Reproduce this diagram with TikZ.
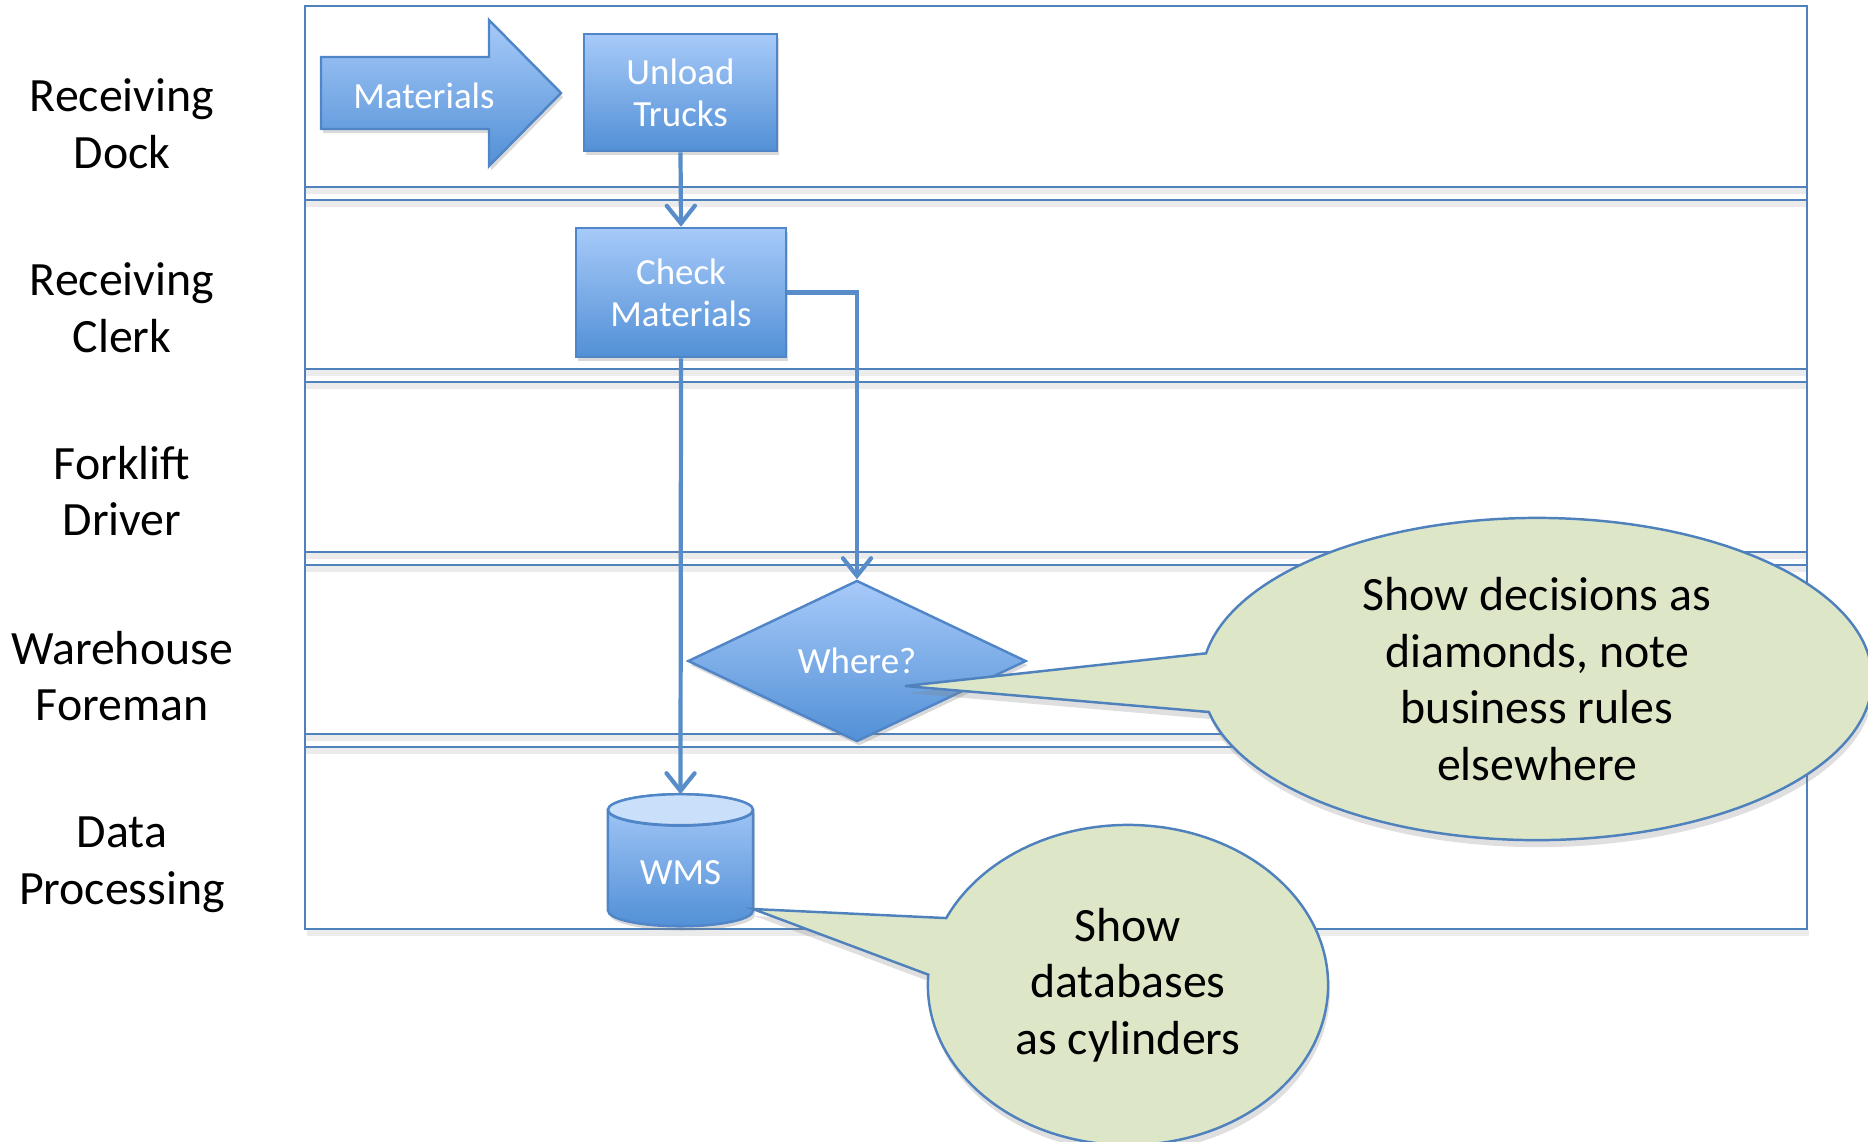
\documentclass[tikz,border=0pt]{standalone}
\usepackage{fontspec}
\setmainfont{Carlito}
\usetikzlibrary{shapes.geometric,shapes.callouts,shadows,arrows.meta}

% Colours of the swimlane chart
\definecolor{laneblue}{RGB}{79,129,189}
\definecolor{linkblue}{RGB}{88,141,201}
\definecolor{boxtop}{RGB}{167,202,249}
\definecolor{boxbottom}{RGB}{82,144,214}
\definecolor{boxedge}{RGB}{80,134,199}
\definecolor{capfill}{RGB}{202,223,250}
\definecolor{notefill}{RGB}{221,231,200}

\tikzset{
  lane/.style={draw=laneblue, line width=0.7pt},
  laneshade/.style={draw=black!8, line width=1.5pt},
  lanetext/.style={align=center, font=\fontsize{13.6}{16.1}\selectfont},
  blueshade/.style={draw=boxedge, line width=0.7pt, top color=boxtop, bottom color=boxbottom},
  boxshadow/.style={drop shadow={shadow xshift=0.6pt, shadow yshift=-1.2pt, opacity=0.3}},
  boxtext/.style={text=white, align=center, font=\fontsize{10.5}{12}\selectfont},
  process/.style={rectangle, blueshade, boxshadow, boxtext, inner sep=0pt},
  decision/.style={diamond, blueshade, boxshadow, boxtext, inner sep=0pt,
    minimum width=3.38cm, minimum height=1.61cm},
  dbase/.style={cylinder, shape border rotate=90, aspect=0.3, blueshade, boxshadow, boxtext,
    outer sep=0pt, minimum width=1.45cm, minimum height=1.32cm},
  link/.style={draw=linkblue, line width=1.2pt, -{Straight Barb[length=5pt, width=8pt, line cap=round]}},
  note/.style={ellipse callout, draw=laneblue, line width=0.7pt, fill=notefill, inner sep=0pt,
    callout pointer arc=21, lanetext,
    drop shadow={shadow xshift=0.5pt, shadow yshift=-2pt, opacity=0.25}}
}

\begin{document}
\begin{tikzpicture}[x=0.01cm, y=-0.01cm]
  % Fix the page to the size of the reference
  \useasboundingbox (0,0) rectangle (1868,1141);

  % Draw the shadows under the lane borders
  \draw[laneshade] (305,191) -- (1807,191);
  \draw[laneshade] (305,204) -- (1807,204);
  \draw[laneshade] (305,373) -- (1807,373);
  \draw[laneshade] (305,386) -- (1807,386);
  \draw[laneshade] (305,556) -- (1807,556);
  \draw[laneshade] (305,569) -- (1807,569);
  \draw[laneshade] (305,738) -- (1807,738);
  \draw[laneshade] (305,751) -- (1807,751);
  \draw[laneshade] (307,933) -- (1809,933);

  % Draw the frame and the lane borders
  \draw[lane] (305,6) rectangle (1807,929);
  \draw[lane] (305,187) -- (1807,187);
  \draw[lane] (305,200) -- (1807,200);
  \draw[lane] (305,369) -- (1807,369);
  \draw[lane] (305,382) -- (1807,382);
  \draw[lane] (305,552) -- (1807,552);
  \draw[lane] (305,565) -- (1807,565);
  \draw[lane] (305,734) -- (1807,734);
  \draw[lane] (305,747) -- (1807,747);

  % Add the lane names
  \node[lanetext] (dock) at (122,124) {Receiving\\Dock};
  \node[lanetext] (clerk) at (122,308) {Receiving\\Clerk};
  \node[lanetext] (driver) at (122,491) {Forklift\\Driver};
  \node[lanetext] (foreman) at (122,676) {Warehouse\\Foreman};
  \node[lanetext] (dp) at (122,865) {Data\\Processing};

  % Draw the incoming materials arrow
  \path[blueshade, boxshadow] (321,57) -- (489,57) -- (489,20) -- (561,93)
    -- (489,166) -- (489,129) -- (321,129) -- cycle;
  \node[boxtext] (mat) at (424,96) {Materials};

  % Draw the steps
  \node[process, minimum width=1.93cm, minimum height=1.17cm] (unload) at (680.5,92.5) {Unload\\Trucks};
  \node[process, minimum width=2.10cm, minimum height=1.29cm] (check) at (681,292.5) {Check\\Materials};
  \node[decision] (where) at (857,661) {Where?};
  \node[dbase] (wms) at (680.5,873) {WMS};
  \filldraw[draw=boxedge, line width=0.7pt, fill=capfill] (wms.north) ++(0,15.5) ellipse (0.725cm and 0.155cm);

  % Connect the steps
  \draw[link] (unload.south) -- (check.north);
  \draw[link] (check.east) -| (where.north);
  \draw[link] (check.south) -- (wms.north);

  % Points the notes refer to
  \coordinate (tip1) at (905,686);
  \coordinate (tip2) at (753,909);

  % Add the notes
  \node[note, minimum width=6.7cm, minimum height=3.22cm, callout absolute pointer={(tip1)}]
    (note1) at (1537,679) {Show decisions as\\diamonds, note\\business rules\\elsewhere};
  \node[note, minimum width=4.0cm, minimum height=3.2cm, callout absolute pointer={(tip2)}]
    (note2) at (1128,985) {Show\\databases\\as cylinders};

\end{tikzpicture}
\end{document}
